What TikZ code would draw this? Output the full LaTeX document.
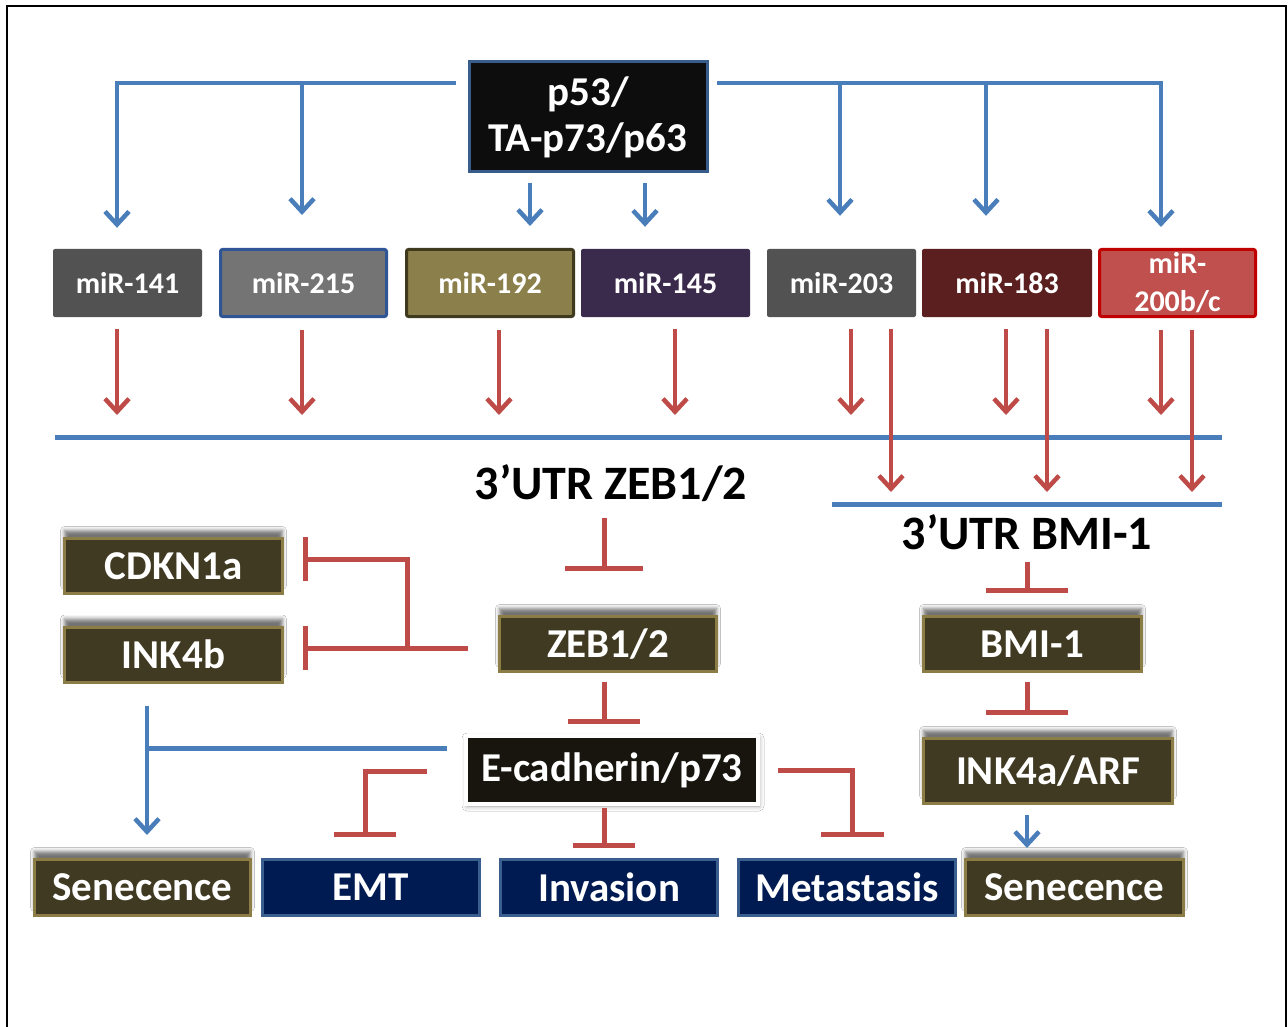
\documentclass[tikz,border=0pt]{standalone}
\usepackage{fontspec}
\setmainfont{Carlito}
\usetikzlibrary{arrows.meta,shadows.blur}
\definecolor{cblue}{HTML}{4A7EBB}
\definecolor{cred}{HTML}{BE4B48}
\definecolor{olivefill}{HTML}{403A22}
\definecolor{oliveline}{HTML}{8C7D46}
\definecolor{navyfill}{HTML}{001A52}
\definecolor{navyline}{HTML}{3A5F8E}
\definecolor{pblack}{HTML}{0D0D0D}
\definecolor{pline}{HTML}{385D8A}
\definecolor{ecfill}{HTML}{17150D}
\definecolor{gA}{HTML}{525252}
\definecolor{gB}{HTML}{747474}
\definecolor{gBline}{HTML}{2F5597}
\definecolor{olA}{HTML}{8B7F4B}
\definecolor{olAline}{HTML}{3F3A1E}
\definecolor{purA}{HTML}{3A2A4B}
\definecolor{brA}{HTML}{5B1F1F}
\definecolor{rdA}{HTML}{C0504D}
\definecolor{rdAline}{HTML}{C00000}
\begin{document}
\begin{tikzpicture}[x=1pt,y=-1pt,
  txt/.style={rectangle, inner sep=0pt, text=white, font=\bfseries\fontsize{41}{46}\selectfont},
  mir/.style={rectangle, rounded corners=2pt, inner sep=0pt, minimum height=68pt, text=white, font=\bfseries\fontsize{30}{38}\selectfont, align=center},
  olivebox/.style={txt, fill=olivefill, draw=oliveline, line width=3pt, minimum height=55pt,
     blur shadow={shadow xshift=0pt, shadow yshift=8pt, shadow blur radius=4pt, shadow opacity=55}},
  navybox/.style={txt, fill=navyfill, draw=navyline, line width=3pt, minimum width=217pt, minimum height=56pt},
  utr/.style={inner sep=0pt, text=black, font=\bfseries\fontsize{48}{50}\selectfont},
  bline/.style={draw=cblue, line width=5pt},
  barr/.style={draw=cblue, line width=4.5pt, -{Straight Barb[length=13pt,width=24pt]}},
  rarr/.style={draw=cred, line width=4.5pt, -{Straight Barb[length=13pt,width=24pt]}},
  inh/.style={draw=cred, line width=5pt, -{Bar[width=#1]}},
  inh/.default=78pt
]
\useasboundingbox (0,0) rectangle (1288,1027);
\fill[white] (0,0) rectangle (1288,1027);
% frame
\coordinate (f1) at (7,1027); \coordinate (f2) at (7,6);
\coordinate (f3) at (1286,6); \coordinate (f4) at (1286,1027);
\draw[black, line width=1.8pt] (f1) -- (f2) -- (f3) -- (f4);

% top node
\node[txt, fill=pblack, draw=pline, line width=3pt, minimum width=238pt, minimum height=110pt, align=center] (p53) at (588,117) {p53/\\TA-p73/p63};

% miRNA row
\node[mir, fill=gA, minimum width=149pt] (m141) at (127.5,283) {miR-141};
\node[mir, fill=gB, draw=gBline, line width=3pt, minimum width=166pt, minimum height=67pt] (m215) at (303.5,283) {miR-215};
\node[mir, fill=olA, draw=olAline, line width=3pt, minimum width=167pt, minimum height=67pt] (m192) at (490,283) {miR-192};
\node[mir, fill=purA, minimum width=169pt] (m145) at (665.5,283) {miR-145};
\node[mir, fill=gA, minimum width=149pt] (m203) at (841.5,283) {miR-203};
\node[mir, fill=brA, minimum width=170pt] (m183) at (1007,283) {miR-183};
\node[mir, fill=rdA, draw=rdAline, line width=3pt, minimum width=156pt, minimum height=67pt] (m200) at (1177.5,283) {miR-\\200b/c};

% blue bus from p53
\coordinate (bL) at (117,83); \coordinate (bR) at (1161,83);
\coordinate (b2) at (302,83); \coordinate (b5) at (840,83); \coordinate (b6) at (986,83);
\coordinate (s1) at (530,183); \coordinate (s2) at (645,183);
\draw[barr, shorten <=12pt, shorten >=21pt] (p53.west |- bL) -| (bL |- m141.north);
\draw[barr, shorten <=8pt, shorten >=21pt] (p53.east |- bR) -| (bR |- m200.north);
\draw[barr, shorten >=33pt] (b2) -- (b2 |- m215.north);
\draw[barr, shorten >=33pt] (b5) -- (b5 |- m203.north);
\draw[barr, shorten >=33pt] (b6) -- (b6 |- m183.north);
\draw[barr, shorten <=10pt, shorten >=22pt] (p53.south -| s1) -- (s1 |- m192.north);
\draw[barr, shorten <=10pt, shorten >=22pt] (p53.south -| s2) -- (s2 |- m145.north);

% 3'UTR lines
\coordinate (L1) at (55,437); \coordinate (L1e) at (1222,437);
\coordinate (L2) at (832,504); \coordinate (L2e) at (1222,504);
\draw[bline] (L1) -- (L1e);
\draw[bline] (L2) -- (L2e);

% red arrows from miRNAs
\foreach \n/\x/\t/\s in {m141/117/L1/22pt, m215/302/L1/22pt, m192/499/L1/22pt, m145/675/L1/22pt,
   m203/851/L1/22pt, m203/891/L2/12pt, m183/1006/L1/22pt, m183/1047/L2/12pt,
   m200/1161/L1/22pt, m200/1192/L2/12pt}{
  \draw[rarr, shorten <=12pt, shorten >=\s] (\n.south -| \x,0) -- (\x,0 |- \t);
}

\node[utr] (utrz) at (611,483) {3’UTR ZEB1/2};
\node[utr] (utrb) at (1027,532) {3’UTR BMI-1};

% left column / middle
\node[olivebox, minimum width=218pt] (cdk) at (173.5,566) {CDKN1a};
\node[olivebox, minimum width=218pt] (ink4b) at (173.5,654.5) {INK4b};
\node[olivebox, minimum width=217pt] (zeb) at (608,644) {ZEB1/2};
\node[txt, fill=ecfill, draw=white, line width=4pt, minimum width=292pt, minimum height=68pt,
  blur shadow={shadow xshift=1pt, shadow yshift=-2pt, shadow blur radius=5pt, shadow opacity=40}] (ecad) at (612,770) {E-cadherin/p73};
\node[olivebox, minimum width=218pt] (bmi) at (1032.5,644) {BMI-1};
\node[olivebox, minimum width=249pt, minimum height=65pt] (ink4a) at (1048,771) {INK4a/ARF};

% bottom row
\node[olivebox, minimum width=216pt, minimum height=56pt] (sen1) at (142.5,887.5) {Senecence};
\node[navybox] (emt) at (371,887.5) {EMT};
\node[navybox] (inv) at (609,887.5) {Invasion};
\node[navybox] (met) at (847,887.5) {Metastasis};
\node[olivebox, minimum width=218pt, minimum height=56pt] (sen2) at (1074.5,887.5) {Senecence};

% inhibition links (ZEB branch)
\coordinate (tz) at (604,0);
\draw[inh, shorten <=16pt, shorten >=44pt] (utrz.south -| tz) -- (tz |- zeb.north);
\draw[inh=72pt, shorten <=9pt, shorten >=10pt] (zeb.south -| tz) -- (tz |- ecad.north);
\draw[inh=62pt, shorten <=2pt, shorten >=10pt] (ecad.south -| tz) -- (tz |- inv.north);

\coordinate (jz) at (407,648); \coordinate (jc) at (407,559);
\draw[inh=44pt, shorten <=30pt, shorten >=19pt] (zeb.west |- jz) -- (ink4b.east |- jz);
\draw[inh=44pt, shorten >=19pt] (jz) -- (jc) -- (cdk.east |- jc);

\coordinate (je) at (365,771); \coordinate (jm) at (852,770);
\draw[inh=62pt, shorten <=37pt, shorten >=21pt] (ecad.west |- je) -| (je |- emt.north);
\draw[inh=63pt, shorten <=18pt, shorten >=21pt] (ecad.east |- jm) -| (jm |- met.north);

% blue senescence link
\coordinate (jb) at (147,748);
\draw[bline, shorten <=17pt] (ecad.west |- jb) -- (jb);
\draw[barr, shorten <=22pt, shorten >=23pt] (ink4b.south -| jb) -- (jb |- sen1.north);

% BMI branch
\coordinate (vb) at (1027,0);
\draw[inh=82pt, shorten <=12pt, shorten >=22pt] (utrb.south -| vb) -- (vb |- bmi.north);
\draw[inh=82pt, shorten <=9pt, shorten >=22pt] (bmi.south -| vb) -- (vb |- ink4a.north);
\draw[barr, shorten <=10pt, shorten >=10pt] (ink4a.south -| vb) -- (vb |- sen2.north);
\end{tikzpicture}
\end{document}
